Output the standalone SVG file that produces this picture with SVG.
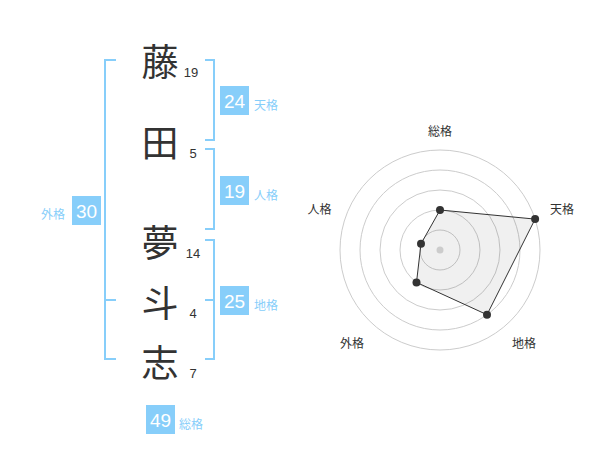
<svg xmlns="http://www.w3.org/2000/svg" width="600" height="470" viewBox="0 0 600 470">
<style>
.k{font-family:"Noto Sans CJK JP","Noto Sans CJK SC",sans-serif;font-size:37px;fill:#333;text-anchor:middle;dominant-baseline:central}
.n{font-family:"Liberation Sans",Arial,sans-serif;font-size:13px;fill:#333;text-anchor:middle}
.br{fill:none;stroke:#87cefa;stroke-width:2}
.bx{fill:#87cefa}
.bt{font-family:"Liberation Sans",Arial,sans-serif;font-size:19px;fill:#fff;text-anchor:middle}
.lb{font-family:"Noto Sans CJK JP","Noto Sans CJK SC",sans-serif;font-size:12px;fill:#87cefa;dominant-baseline:central}
.rl{font-family:"Noto Sans CJK JP","Noto Sans CJK SC",sans-serif;font-size:12px;fill:#333;text-anchor:middle;dominant-baseline:central}
.rc{fill:none;stroke:#cccccc;stroke-width:1}
.pt{fill:#333}
</style>
<rect width="600" height="470" fill="#fff"/>
<g id="name">
<text class="k" x="160" y="60">藤</text>
<text class="k" x="160" y="141">田</text>
<text class="k" x="160" y="241">夢</text>
<text class="k" x="160" y="301">斗</text>
<text class="k" x="160" y="361">志</text>
<text class="n" x="191" y="77">19</text>
<text class="n" x="193" y="158">5</text>
<text class="n" x="193" y="258">14</text>
<text class="n" x="193" y="318">4</text>
<text class="n" x="193" y="378">7</text>
</g>
<g id="connectors">
<path class="br" d="M116,60 H105 V359 H116 M105,300 H116"/>
<path class="br" d="M205,60 H214 V140 H205"/>
<path class="br" d="M205,149 H214 V229 H205"/>
<path class="br" d="M205,240 H214 V359 H205 M205,300 H214"/>
</g>
<g id="tenkaku">
<rect class="bx" x="220" y="86" width="29" height="29"/>
<text class="bt" x="234.5" y="107.5">24</text>
<text class="lb" x="254" y="104">天格</text>
</g>
<g id="jinkaku">
<rect class="bx" x="220" y="176" width="29" height="29"/>
<text class="bt" x="234.5" y="197.5">19</text>
<text class="lb" x="254" y="194">人格</text>
</g>
<g id="gaikaku">
<rect class="bx" x="72" y="196" width="29" height="29"/>
<text class="bt" x="86.5" y="217.5">30</text>
<text class="lb" x="41" y="213">外格</text>
</g>
<g id="chikaku">
<rect class="bx" x="220" y="286" width="29" height="29"/>
<text class="bt" x="234.5" y="307.5">25</text>
<text class="lb" x="254" y="304">地格</text>
</g>
<g id="soukaku">
<rect class="bx" x="146" y="405" width="29" height="29"/>
<text class="bt" x="160.5" y="426.5">49</text>
<text class="lb" x="179" y="423">総格</text>
</g>
<g id="radar">
<circle class="rc" cx="440" cy="250" r="100"/>
<circle class="rc" cx="440" cy="250" r="80"/>
<circle class="rc" cx="440" cy="250" r="60"/>
<circle class="rc" cx="440" cy="250" r="40"/>
<circle class="rc" cx="440" cy="250" r="20"/>
<polygon points="440,210 535.1,219.1 487,314.7 416.5,282.4 421,243.8" fill="#000" fill-opacity="0.06" stroke="#333" stroke-width="1"/>
<circle cx="440" cy="250" r="3.5" fill="#cccccc"/>
<circle class="pt" cx="440" cy="210" r="4"/>
<circle class="pt" cx="535.1" cy="219.1" r="4"/>
<circle class="pt" cx="487" cy="314.7" r="4"/>
<circle class="pt" cx="416.5" cy="282.4" r="4"/>
<circle class="pt" cx="421" cy="243.8" r="4"/>
<text class="rl" x="440" y="130">総格</text>
<text class="rl" x="562" y="208">天格</text>
<text class="rl" x="319.5" y="208">人格</text>
<text class="rl" x="352" y="342">外格</text>
<text class="rl" x="524" y="342">地格</text>
</g>
</svg>
